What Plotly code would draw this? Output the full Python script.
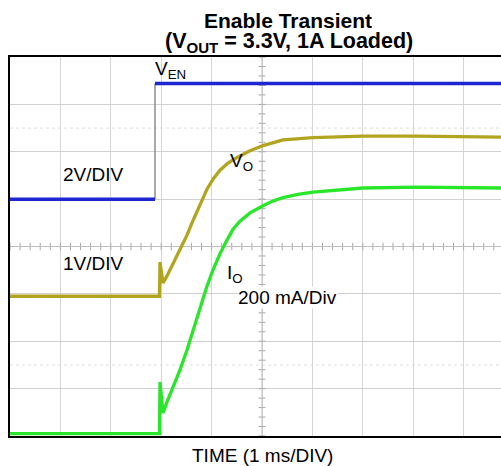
import plotly.graph_objects as go

# ---------------- data (time in ms, 1 ms/div) ----------------
en_time = [0.0, 2.877, 2.877, 9.75]
en_volts = [0.0, 0.0, 4.88, 4.88]

vo_time = [0.0, 2.966, 2.976, 2.996, 3.036, 3.115, 3.214, 3.313, 3.413, 3.512,
           3.611, 3.71, 3.81, 3.909, 4.028, 4.167, 4.325, 4.524, 4.762, 5.02,
           5.417, 6.012, 7.004, 8.075, 9.75]
vo_volts = [0.0, 0.0, 0.72, 0.55, 0.28, 0.43, 0.64, 0.85, 1.06, 1.29,
            1.55, 1.80, 2.05, 2.26, 2.47, 2.66, 2.81, 2.94, 3.07, 3.18,
            3.30, 3.35, 3.38, 3.38, 3.36]

io_time = [0.0, 2.966, 2.976, 2.996, 3.036, 3.115, 3.234, 3.373, 3.512, 3.641,
           3.77, 3.899, 4.028, 4.167, 4.306, 4.425, 4.563, 4.762, 5.02, 5.218,
           5.417, 5.714, 6.012, 7.004, 8.075, 9.75]
io_amps = [0.0, 0.0, 0.218, 0.163, 0.087, 0.134, 0.197, 0.269, 0.353, 0.445,
           0.535, 0.617, 0.691, 0.760, 0.817, 0.863, 0.897, 0.932, 0.962, 0.982,
           0.996, 1.010, 1.020, 1.037, 1.041, 1.037]

# scope channel settings: (units per division, zero position in divisions)
en_scale, en_zero = 2.0, 5.0
vo_scale, vo_zero = 1.0, 2.95
io_scale, io_zero = 0.2, 0.05

N_YDIV = 8
X_VISIBLE = 9.742  # visible part of the 10-division screen

# ---------------- geometry ----------------
W, H = 501, 466
L, R, T, B = 10, 0, 57, 30
PW, PH = W - L - R, H - T - B


def px(x):
    return (x - L) / PW


def py(y):
    return (H - B - y) / PH


FONT = "Arial, Liberation Sans, sans-serif"
BLUE, OLIVE, GREEN = "#1e26d2", "#b3a41f", "#2ae62a"

fig = go.Figure()

# graticule: faint dotted lines and center-line ticks
dot_x, dot_y = [], []
for yy in (1.5, 6.5):
    dot_x += [0, X_VISIBLE, None]
    dot_y += [yy, yy, None]
fig.add_trace(go.Scatter(x=dot_x, y=dot_y, mode="lines", hoverinfo="skip",
                         line=dict(color="#dddddd", width=1, dash="dot"),
                         showlegend=False))

cx, cy = 5.0, 4.0
tick_x, tick_y = [], []
k = 0
while k * 0.2 <= X_VISIBLE + 1e-9:
    xx = k * 0.2
    tick_x += [xx, xx, None]
    tick_y += [cy - 0.08, cy + 0.08, None]
    k += 1
for k in range(0, N_YDIV * 5 + 1):
    yy = k * 0.2
    tick_x += [cx - 0.07, cx + 0.07, None]
    tick_y += [yy, yy, None]
fig.add_trace(go.Scatter(x=tick_x, y=tick_y, mode="lines", hoverinfo="skip",
                         line=dict(color="#a8a8a8", width=1), showlegend=False))
fig.add_trace(go.Scatter(x=[0, X_VISIBLE, None, cx, cx], y=[cy, cy, None, 0, N_YDIV],
                         mode="lines", hoverinfo="skip",
                         line=dict(color="#bdbdbd", width=1), showlegend=False))

# V_EN: high/low levels in blue, edge in gray
fig.add_trace(go.Scatter(x=en_time[1:3], y=en_volts[1:3], yaxis="y2", mode="lines",
                         line=dict(color="#8c8c8c", width=1.5), showlegend=False))
fig.add_trace(go.Scatter(x=en_time[0:2] + [None] + en_time[2:4],
                         y=en_volts[0:2] + [None] + en_volts[2:4], yaxis="y2",
                         mode="lines", line=dict(color=BLUE, width=3.5),
                         showlegend=False))
fig.add_trace(go.Scatter(x=vo_time, y=vo_volts, yaxis="y3", mode="lines",
                         line=dict(color=OLIVE, width=3.3), showlegend=False))
fig.add_trace(go.Scatter(x=io_time, y=io_amps, yaxis="y4", mode="lines",
                         line=dict(color=GREEN, width=3.3), showlegend=False))

hidden = dict(visible=False, overlaying="y", fixedrange=True)
fig.update_layout(
    width=W, height=H,
    margin=dict(l=L, r=R, t=T, b=B),
    paper_bgcolor="white", plot_bgcolor="white",
    showlegend=False,
    xaxis=dict(range=[0, X_VISIBLE], dtick=1, tick0=0, showticklabels=False,
               ticks="", showgrid=True, gridcolor="#d6d6d6", gridwidth=1,
               zeroline=False, showline=True, linecolor="black", linewidth=2,
               mirror=True),
    yaxis=dict(range=[0, N_YDIV], dtick=1, tick0=0, showticklabels=False,
               ticks="", showgrid=True, gridcolor="#d0d0d0", gridwidth=1,
               zeroline=False, showline=True, linecolor="black", linewidth=2),
    yaxis2=dict(range=[-en_zero * en_scale, (N_YDIV - en_zero) * en_scale], **hidden),
    yaxis3=dict(range=[-vo_zero * vo_scale, (N_YDIV - vo_zero) * vo_scale], **hidden),
    yaxis4=dict(range=[-io_zero * io_scale, (N_YDIV - io_zero) * io_scale], **hidden),
)

def note(text, x, y, size=19, xanchor="left", bg=None):
    fig.add_annotation(text=text, x=px(x), y=py(y), xref="paper", yref="paper",
                       xanchor=xanchor, yanchor="middle", showarrow=False,
                       font=dict(family=FONT, size=size, color="black"),
                       bgcolor=bg, borderpad=0)

note("<b>Enable Transient</b>", 288, 20, size=21, xanchor="center")
note("<b>(V<sub>OUT</sub> = 3.3V, 1A Loaded)</b>", 289, 42.5, size=21.5, xanchor="center")
note("V<sub>EN</sub>", 154, 70)
note("2V/DIV", 62, 174)
note("V<sub>O</sub>", 229, 162)
note("1V/DIV", 62, 263)
note("I<sub>O</sub>", 226, 274)
note("200 mA/Div", 237, 297, bg="white")
note("TIME (1 ms/DIV)", 262, 455, xanchor="center")

fig.write_html("out.html", config={"displayModeBar": False},
               post_script="document.body.style.margin='0';document.body.style.overflow='hidden';")
